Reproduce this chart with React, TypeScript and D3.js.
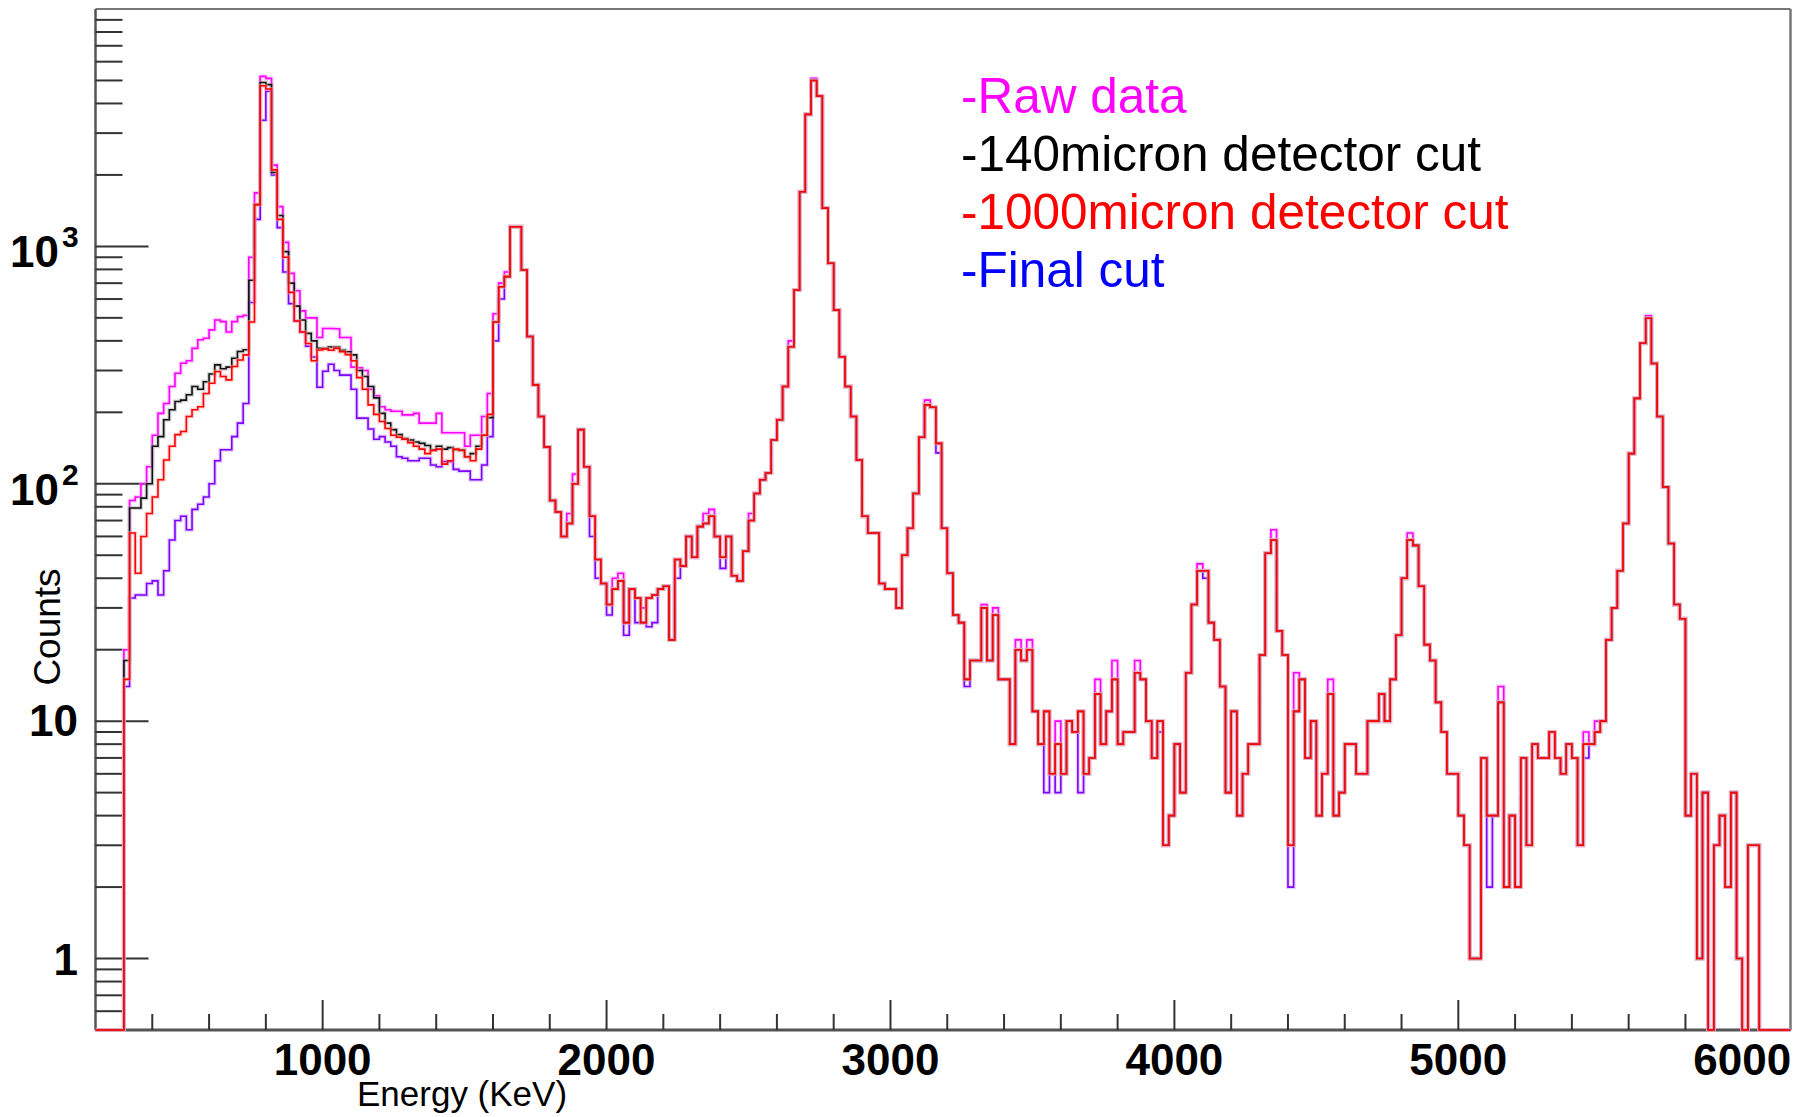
import React from "react";
import * as d3 from "d3";

// plot frame in page pixels
const frame = { left: 95.5, top: 9, right: 1790.5, bottom: 1030 };

const binWidth = 20; // keV
const lowStart = 300; // first filled bin
const tailStart = 1600; // from here all cuts nearly coincide

// 300 .. 1580 keV, one value per 20 keV bin
const rawLow = [
  20, 85, 88, 100, 118, 160, 198, 218, 257, 292,
  322, 330, 372, 404, 410, 445, 490, 482, 436, 482,
  506, 512, 900, 1680, 5200, 5100, 2200, 1470, 1040, 770,
  650, 535, 500, 500, 413, 451, 451, 450, 413, 413,
  310, 308, 300, 250, 235, 211, 205, 202, 202, 195,
  195, 198, 180, 180, 180, 198, 164, 164, 164, 164,
  144, 160, 160, 192, 240,
];
const cut140Low = [
  18, 79, 79, 87, 100, 144, 158, 186, 205, 222,
  225, 237, 257, 250, 269, 290, 317, 305, 310, 338,
  361, 367, 720, 1500, 4900, 4800, 2050, 1350, 950, 700,
  560, 490, 430, 400, 372, 372, 377, 377, 365, 360,
  349, 300, 283, 257, 230, 198, 180, 169, 161, 155,
  153, 150, 148, 145, 139, 144, 140, 142, 139, 139,
  130, 134, 144, 160, 190,
];
const cut1000Low = [
  15, 62, 42, 60, 75, 88, 104, 126, 144, 161,
  166, 192, 205, 211, 240, 265, 297, 283, 274, 312,
  332, 349, 480, 1500, 4750, 4600, 2100, 1300, 900, 640,
  485, 436, 390, 330, 366, 370, 365, 372, 360, 350,
  330, 280, 250, 215, 196, 183, 171, 160, 157, 154,
  149, 144, 140, 134, 138, 140, 121, 125, 140, 138,
  130, 125, 140, 160, 196,
];
const finalLow = [
  14, 33, 34, 34, 38, 39, 34, 43, 58, 70,
  73, 64, 78, 82, 88, 100, 125, 139, 139, 158,
  180, 218, 580, 1300, 3400, 4500, 2000, 1200, 780, 574,
  485, 436, 380, 342, 255, 298, 319, 300, 287, 287,
  250, 189, 189, 170, 154, 158, 150, 144, 130, 128,
  125, 125, 128, 128, 120, 118, 124, 124, 115, 113,
  113, 104, 104, 120, 158,
];

// 1600 .. 6040 keV, 1000 micron cut (140 micron cut is the same here)
const tailCounts = [
  480, 676, 746, 1210, 1210, 795, 417, 261, 192, 143,
  85, 76, 60, 68, 100, 169, 118, 73, 48, 38,
  31, 36, 39, 26, 36, 33, 26, 33, 34, 36,
  37, 22, 48, 45, 60, 49, 66, 68, 73, 60,
  49, 60, 41, 39, 52, 70, 91, 104, 111, 153,
  186, 257, 378, 655, 1700, 3600, 5000, 4300, 1450, 849,
  539, 343, 257, 192, 126, 73, 62, 62, 38, 36,
  36, 30, 50, 65, 91, 157, 215, 210, 148, 65,
  42, 28, 26, 15, 18, 18, 30, 18, 28, 15,
  15, 8, 20, 18, 20, 11, 8, 11, 6, 8,
  6, 10, 9, 11, 6, 7, 13, 8, 11, 15,
  8, 9, 9, 16, 15, 10, 7, 10, 3, 4,
  8, 5, 16, 31, 43, 43, 26, 22, 14, 5,
  11, 4, 6, 8, 8, 19, 51, 58, 24, 19,
  3, 11, 15, 7, 10, 4, 6, 13, 4, 5,
  8, 8, 6, 6, 10, 10, 13, 10, 15, 23,
  40, 58, 55, 37, 21, 18, 12, 9, 6, 6,
  4, 3, 1, 1, 7, 4, 4, 12, 2, 4,
  2, 7, 3, 8, 7, 7, 9, 7, 6, 8,
  7, 3, 8, 8, 9, 10, 22, 30, 43, 68,
  134, 229, 391, 498, 321, 192, 97, 56, 31, 27,
  4, 6, 1, 5, 0, 3, 4, 2, 5, 1,
  0, 3, 3,
];

// [keV, counts] where raw / final differ from the tail above
const rawTailDiff: [number, number][] = [
  [1600, 520], [1620, 700], [1640, 780], [1860, 75], [1880, 110],
  [2020, 40], [2040, 42], [2120, 30], [2340, 75], [2360, 78],
  [2500, 75], [2640, 400], [2720, 5100], [3120, 225], [3320, 31],
  [3360, 30], [3440, 22], [3480, 22], [3580, 10], [3720, 15],
  [3780, 18], [3860, 18], [4080, 46], [4340, 64], [4420, 16],
  [4540, 15], [4820, 62], [5140, 14], [5440, 9], [5480, 10], [5660, 510],
];
const finalTailDiff: [number, number][] = [
  [1600, 400], [1620, 600], [1940, 60], [1960, 40], [2000, 28],
  [2060, 23], [2100, 26], [2140, 25], [2160, 26], [2240, 40],
  [2400, 44], [3160, 135], [3260, 14], [3540, 5], [3580, 5],
  [3660, 5], [3940, 9], [4100, 40], [4400, 2], [4500, 4],
  [5100, 2], [5440, 7],
];

const xMajor = [1000, 2000, 3000, 4000, 5000, 6000];
const yMajor = [1, 10, 100, 1000];

const legend = [
  { label: "-Raw data", color: "#ff00ff" },
  { label: "-140micron detector cut", color: "#000000" },
  { label: "-1000micron detector cut", color: "#ff0000" },
  { label: "-Final cut", color: "#0000ff" },
];

const x = d3.scaleLinear().domain([200, 6170]).range([frame.left, frame.right]);
const y = d3.scaleLog().domain([0.5, 10000]).range([frame.bottom, frame.top]);

function buildBins(low: number[], diff: [number, number][]) {
  const over = new Map(diff);
  const bins = [
    ...low.map((v, i) => ({ e: lowStart + i * binWidth, v })),
    ...tailCounts.map((v, i) => ({ e: tailStart + i * binWidth, v })),
  ];
  return bins.map((b) => (over.has(b.e) ? { e: b.e, v: over.get(b.e) as number } : b));
}

const line = d3
  .line<[number, number]>()
  .x((d) => x(d[0]))
  .y((d) => (d[1] > 0 ? y(d[1]) : frame.bottom))
  .curve(d3.curveStepAfter);

function histPath(bins: { e: number; v: number }[]) {
  const end = bins[bins.length - 1].e + binWidth;
  const pts: [number, number][] = [
    [200, 0],
    ...bins.map((b) => [b.e, b.v] as [number, number]),
    [end, 0],
    [6170, 0],
  ];
  return line(pts) || "";
}

const series = [
  { key: "raw", color: "#ff00ff", halo: "#ff99ff", bins: buildBins(rawLow, rawTailDiff) },
  { key: "final", color: "#8000ff", halo: "#c8a0ff", bins: buildBins(finalLow, finalTailDiff) },
  { key: "c140", color: "#111111", halo: "#aaaaaa", bins: buildBins(cut140Low, []) },
  { key: "c1000", color: "#ff0000", halo: "#ffaaaa", bins: buildBins(cut1000Low, []) },
];

export default function App() {
  const xTicks = d3.range(400, 6001, 200);
  const yMinor: number[] = [];
  [0.1, 1, 10, 100, 1000].forEach((dec) => {
    for (let k = 2; k <= 9; k++) {
      const v = k * dec;
      if (v > 0.5 && v < 10000) yMinor.push(v);
    }
  });

  const font = "'Liberation Sans', Arial, Helvetica, sans-serif";

  return (
    <svg
      width={1805}
      height={1117}
      style={{ position: "absolute", left: 0, top: 0, background: "#fff" }}
      fontFamily={font}
    >
      <defs>
        <clipPath id="plotClip">
          <rect x={frame.left} y={frame.top} width={frame.right - frame.left} height={frame.bottom - frame.top + 2} />
        </clipPath>
      </defs>
      <rect x={0} y={0} width={1805} height={1117} fill="#fff" />

      {/* frame */}
      <line x1={frame.left} x2={frame.right} y1={frame.top} y2={frame.top} stroke="#777" strokeWidth={2} />
      <line x1={frame.right} x2={frame.right} y1={frame.top} y2={frame.bottom} stroke="#777" strokeWidth={2.5} />
      <line x1={frame.left} x2={frame.left} y1={frame.top} y2={frame.bottom} stroke="#555" strokeWidth={2.5} />
      <line x1={frame.left} x2={frame.right} y1={frame.bottom} y2={frame.bottom} stroke="#555" strokeWidth={3} />

      {/* y ticks */}
      {yMinor.map((v) => (
        <line key={"ym" + v} x1={frame.left} x2={frame.left + 27} y1={y(v)} y2={y(v)} stroke="#333" strokeWidth={2} />
      ))}
      {yMajor.map((v) => (
        <line key={"yM" + v} x1={frame.left} x2={frame.left + 53} y1={y(v)} y2={y(v)} stroke="#333" strokeWidth={2} />
      ))}

      {/* x ticks */}
      {xTicks.map((t) => (
        <line
          key={"xt" + t}
          x1={x(t)}
          x2={x(t)}
          y1={frame.bottom}
          y2={frame.bottom - (t % 1000 === 0 ? 30 : 16)}
          stroke="#333"
          strokeWidth={2}
        />
      ))}

      {/* histograms */}
      <g clipPath="url(#plotClip)" fill="none" strokeLinejoin="miter">
        {series.map((s) => (
          <g key={s.key}>
            <path d={histPath(s.bins)} stroke={s.halo} strokeWidth={4} strokeOpacity={0.5} />
            <path d={histPath(s.bins)} stroke={s.color} strokeWidth={1.6} />
          </g>
        ))}
      </g>

      {/* x tick labels */}
      {xMajor.map((t) => (
        <text key={"xl" + t} x={x(t)} y={1075} textAnchor="middle" fontSize={44} fontWeight="bold" fill="#000">
          {t}
        </text>
      ))}

      {/* y tick labels */}
      <text x={78} y={y(1) + 16} textAnchor="end" fontSize={44} fontWeight="bold">1</text>
      <text x={78} y={y(10) + 15} textAnchor="end" fontSize={44} fontWeight="bold">10</text>
      {[100, 1000].map((v) => (
        <g key={"yl" + v}>
          <text x={59} y={y(v) + 21} textAnchor="end" fontSize={44} fontWeight="bold">10</text>
          <text x={62} y={y(v) + 1} fontSize={30} fontWeight="bold">{Math.round(Math.log10(v))}</text>
        </g>
      ))}

      {/* axis titles */}
      <text x={357} y={1106} fontSize={35} fill="#000">Energy (KeV)</text>
      <text transform="translate(60,627) rotate(-90)" textAnchor="middle" fontSize={37} fill="#000">
        Counts
      </text>

      {/* legend */}
      {legend.map((l, i) => (
        <text key={l.label} x={961} y={113 + i * 58} fontSize={49.5} fill={l.color}>
          {l.label}
        </text>
      ))}
    </svg>
  );
}
